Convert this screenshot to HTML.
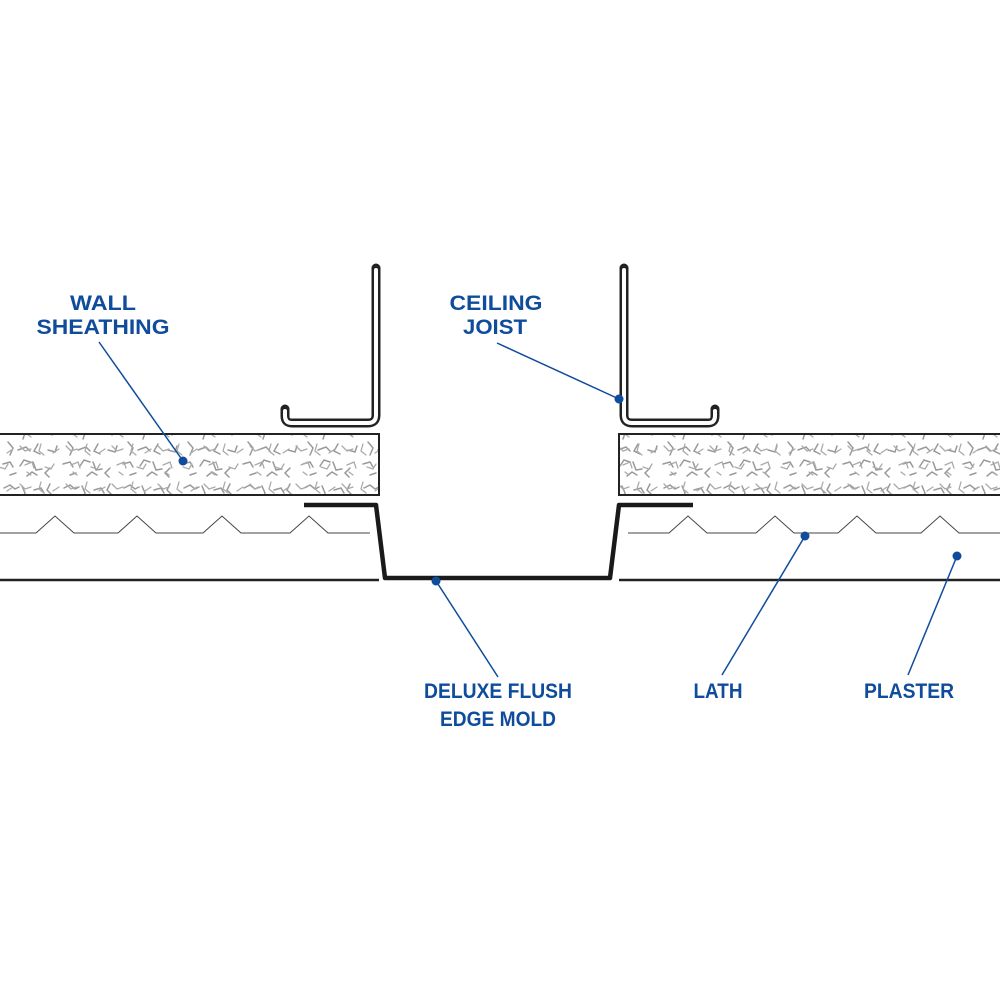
<!DOCTYPE html>
<html><head><meta charset="utf-8"><style>
html,body{margin:0;padding:0;background:#fff;}
svg{display:block}
text{font-family:"Liberation Sans",Arial,sans-serif;font-weight:bold;fill:#0f4c9c;font-size:21px}
</style></head><body>
<svg width="1000" height="1000" viewBox="0 0 1000 1000" xmlns="http://www.w3.org/2000/svg">
<defs>
<pattern id="tex" width="60" height="60" patternUnits="userSpaceOnUse">
<g stroke="#999" stroke-width="1.5" fill="none" stroke-linecap="round">
<path d="M4 8 l6 -3 l5 4 l4 -2"/>
<path d="M22 6 l3 7 l-2 6"/>
<path d="M34 10 l7 -2 l3 5"/>
<path d="M50 4 l-3 6 l5 5"/>
<path d="M8 22 l5 6 l-3 7"/>
<path d="M18 30 l8 -3 l4 4"/>
<path d="M38 24 l-4 7 l6 3"/>
<path d="M48 30 l7 2 l2 -6"/>
<path d="M3 44 l7 -2 l3 5"/>
<path d="M20 46 l4 -6 l6 2"/>
<path d="M33 42 l3 8 l6 -1"/>
<path d="M50 48 l-5 5 l4 4"/>
<path d="M10 55 l6 -2"/>
<path d="M27 56 l5 -4 l5 3"/>
</g>
</pattern>
<pattern id="tex2" x="17" y="23" width="46" height="38" patternUnits="userSpaceOnUse">
<g stroke="#aaa" stroke-width="1.3" fill="none" stroke-linecap="round">
<path d="M3 5 l5 5 l6 -2"/>
<path d="M24 3 l-2 7 l5 4"/>
<path d="M36 12 l6 -4"/>
<path d="M8 24 l7 -3 l2 6"/>
<path d="M28 26 l6 2 l3 -5"/>
<path d="M14 34 l-4 -3"/>
</g>
</pattern>
</defs>

<!-- sheathing -->
<rect x="-2" y="434" width="381" height="61" fill="url(#tex)" stroke="none"/>
<rect x="-2" y="434" width="381" height="61" fill="url(#tex2)" stroke="#222" stroke-width="2"/>
<rect x="619" y="434" width="385" height="61" fill="url(#tex)" stroke="none"/>
<rect x="619" y="434" width="385" height="61" fill="url(#tex2)" stroke="#222" stroke-width="2"/>

<!-- joists -->
<g fill="none" stroke-linejoin="round" stroke-linecap="round">
<path d="M285 409 L285 416 Q285 423 292 423 L368 423 Q376 423 376 415 L376 268" stroke="#222" stroke-width="9"/>
<path d="M285 411 L285 416 Q285 423 292 423 L368 423 Q376 423 376 415 L376 270" stroke="#fff" stroke-width="4"/>
<path d="M715 409 L715 416 Q715 423 708 423 L632 423 Q624 423 624 415 L624 268" stroke="#222" stroke-width="9"/>
<path d="M715 411 L715 416 Q715 423 708 423 L632 423 Q624 423 624 415 L624 270" stroke="#fff" stroke-width="4"/>
</g>

<!-- lath -->
<g fill="none" stroke="#444" stroke-width="1">
<path d="M0 533 L36 533 L55 516 L74 533 L118 533 L137 516 L156 533 L203 533 L222 516 L241 533 L290 533 L309 516 L328 533 L370 533"/>
<path d="M628 533 L669 533 L688 516 L707 533 L756 533 L775 516 L794 533 L838 533 L857 516 L876 533 L921 533 L940 516 L959 533 L1000 533"/>
</g>

<!-- plaster bottom lines -->
<line x1="0" y1="580" x2="379" y2="580" stroke="#222" stroke-width="2.5"/>
<line x1="619" y1="580" x2="1000" y2="580" stroke="#222" stroke-width="2.5"/>

<!-- molding -->
<path d="M304 505 L376 505 L385 578 L610 578 L619 505 L693 505" fill="none" stroke="#1a1a1a" stroke-width="4.5" stroke-linejoin="round"/>

<!-- leaders -->
<g stroke="#0f4c9c" stroke-width="1.5">
<line x1="99" y1="342" x2="183" y2="461"/>
<line x1="497" y1="343" x2="619" y2="399"/>
<line x1="498" y1="677" x2="436" y2="581"/>
<line x1="722" y1="675" x2="805" y2="536"/>
<line x1="908" y1="675" x2="957" y2="556"/>
</g>
<g fill="#0f4c9c">
<circle cx="183" cy="461" r="4.5"/>
<circle cx="619" cy="399" r="4.5"/>
<circle cx="436" cy="581" r="4.5"/>
<circle cx="805" cy="536" r="4.5"/>
<circle cx="957" cy="556" r="4.5"/>
</g>

<!-- labels -->
<text x="103" y="310" text-anchor="middle" textLength="66" lengthAdjust="spacingAndGlyphs">WALL</text>
<text x="103" y="334" text-anchor="middle" textLength="133" lengthAdjust="spacingAndGlyphs">SHEATHING</text>
<text x="496" y="310" text-anchor="middle" textLength="93" lengthAdjust="spacingAndGlyphs">CEILING</text>
<text x="495" y="334" text-anchor="middle" textLength="64" lengthAdjust="spacingAndGlyphs">JOIST</text>
<text x="498" y="698" text-anchor="middle" textLength="148" lengthAdjust="spacingAndGlyphs">DELUXE FLUSH</text>
<text x="498" y="726" text-anchor="middle" textLength="116" lengthAdjust="spacingAndGlyphs">EDGE MOLD</text>
<text x="718" y="698" text-anchor="middle" textLength="49" lengthAdjust="spacingAndGlyphs">LATH</text>
<text x="909" y="698" text-anchor="middle" textLength="90" lengthAdjust="spacingAndGlyphs">PLASTER</text>
</svg>
</body></html>
